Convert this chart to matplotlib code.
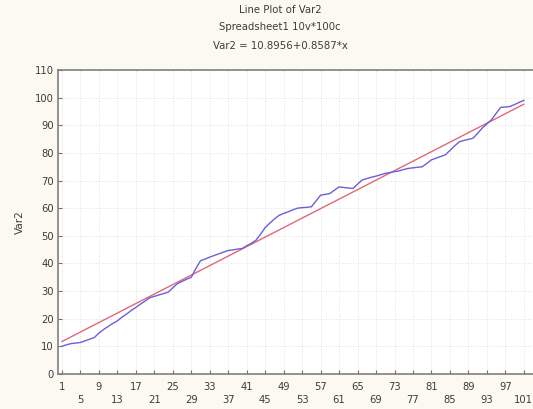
import numpy as np
import matplotlib
matplotlib.use("Agg")
import matplotlib.pyplot as plt

# observed values of Var2 for cases 1..101
case = list(range(1, 102))
var2 = [10.0, 10.6, 11.0, 11.2, 11.4, 12.0, 12.6, 13.2, 14.8, 16.1,
        17.2, 18.3, 19.2, 20.6, 21.7, 23.0, 24.1, 25.3, 26.4, 27.6,
        28.1, 28.6, 29.1, 29.6, 31.2, 32.7, 33.5, 34.3, 35.0, 38.2,
        41.0, 41.6, 42.3, 42.9, 43.5, 44.1, 44.7, 44.9, 45.2, 45.4,
        46.4, 47.3, 48.4, 50.6, 53.0, 54.6, 56.1, 57.4, 58.1, 58.7,
        59.4, 60.0, 60.2, 60.3, 60.5, 62.6, 64.7, 65.0, 65.3, 66.5,
        67.7, 67.5, 67.3, 67.1, 68.7, 70.2, 70.7, 71.2, 71.6, 72.1,
        72.6, 72.9, 73.2, 73.5, 74.0, 74.4, 74.6, 74.8, 75.0, 76.2,
        77.5, 78.1, 78.7, 79.3, 80.9, 82.5, 84.0, 84.5, 84.9, 85.3,
        87.1, 89.0, 90.5, 92.0, 94.3, 96.5, 96.6, 96.8, 97.5, 98.3,
        99.0]

# fitted line shown in the title
intercept = 10.8956
slope = 0.8587

xticks = list(range(1, 102, 4))
yticks = list(range(0, 111, 10))

bg = "#fcf9f0"
txt = "#3c3c3c"

fig = plt.figure(figsize=(5.33, 4.09), dpi=100, facecolor=bg)
W, H = 533, 409
# the plot frame runs a little past the right edge of the picture
ax = fig.add_axes([58 / W, 1 - 374 / H, (540 - 58) / W, (374 - 70) / H])
ax.set_facecolor("white")

x = np.array(case)
ax.plot(x, intercept + slope * x, color="#e06878", lw=1.0, zorder=3)
ax.plot(case, var2, color="#6a60d4", lw=1.0, zorder=4)

ax.set_xlim(0.14, 104.5)
ax.set_ylim(0, 110)
ax.set_yticks(yticks)
ax.set_xticks(xticks)
labels = [str(t) if i % 2 == 0 else "\n" + str(t) for i, t in enumerate(xticks)]
ax.set_xticklabels(labels, linespacing=1.35)
ax.tick_params(axis="both", direction="in", length=3, width=0.8, colors="#707070",
               labelcolor=txt, labelsize=7.2, pad=3)
ax.tick_params(axis="x", pad=6)
ax.grid(True, color="#d8d8d8", lw=0.6, ls=(0, (1, 2)))
ax.set_axisbelow(True)
for s in ax.spines.values():
    s.set_color("#808080")
    s.set_linewidth(1.2)

ax.set_ylabel("Var2", color=txt, fontsize=7.5, labelpad=7)

for yy, s in [(10, "Line Plot of Var2"), (27, "Spreadsheet1 10v*100c"),
              (46, "Var2 = 10.8956+0.8587*x")]:
    fig.text(280 / W, 1 - yy / H, s, ha="center", va="center", fontsize=7.3, color=txt)

fig.savefig("out.png", dpi=100, facecolor=bg)
